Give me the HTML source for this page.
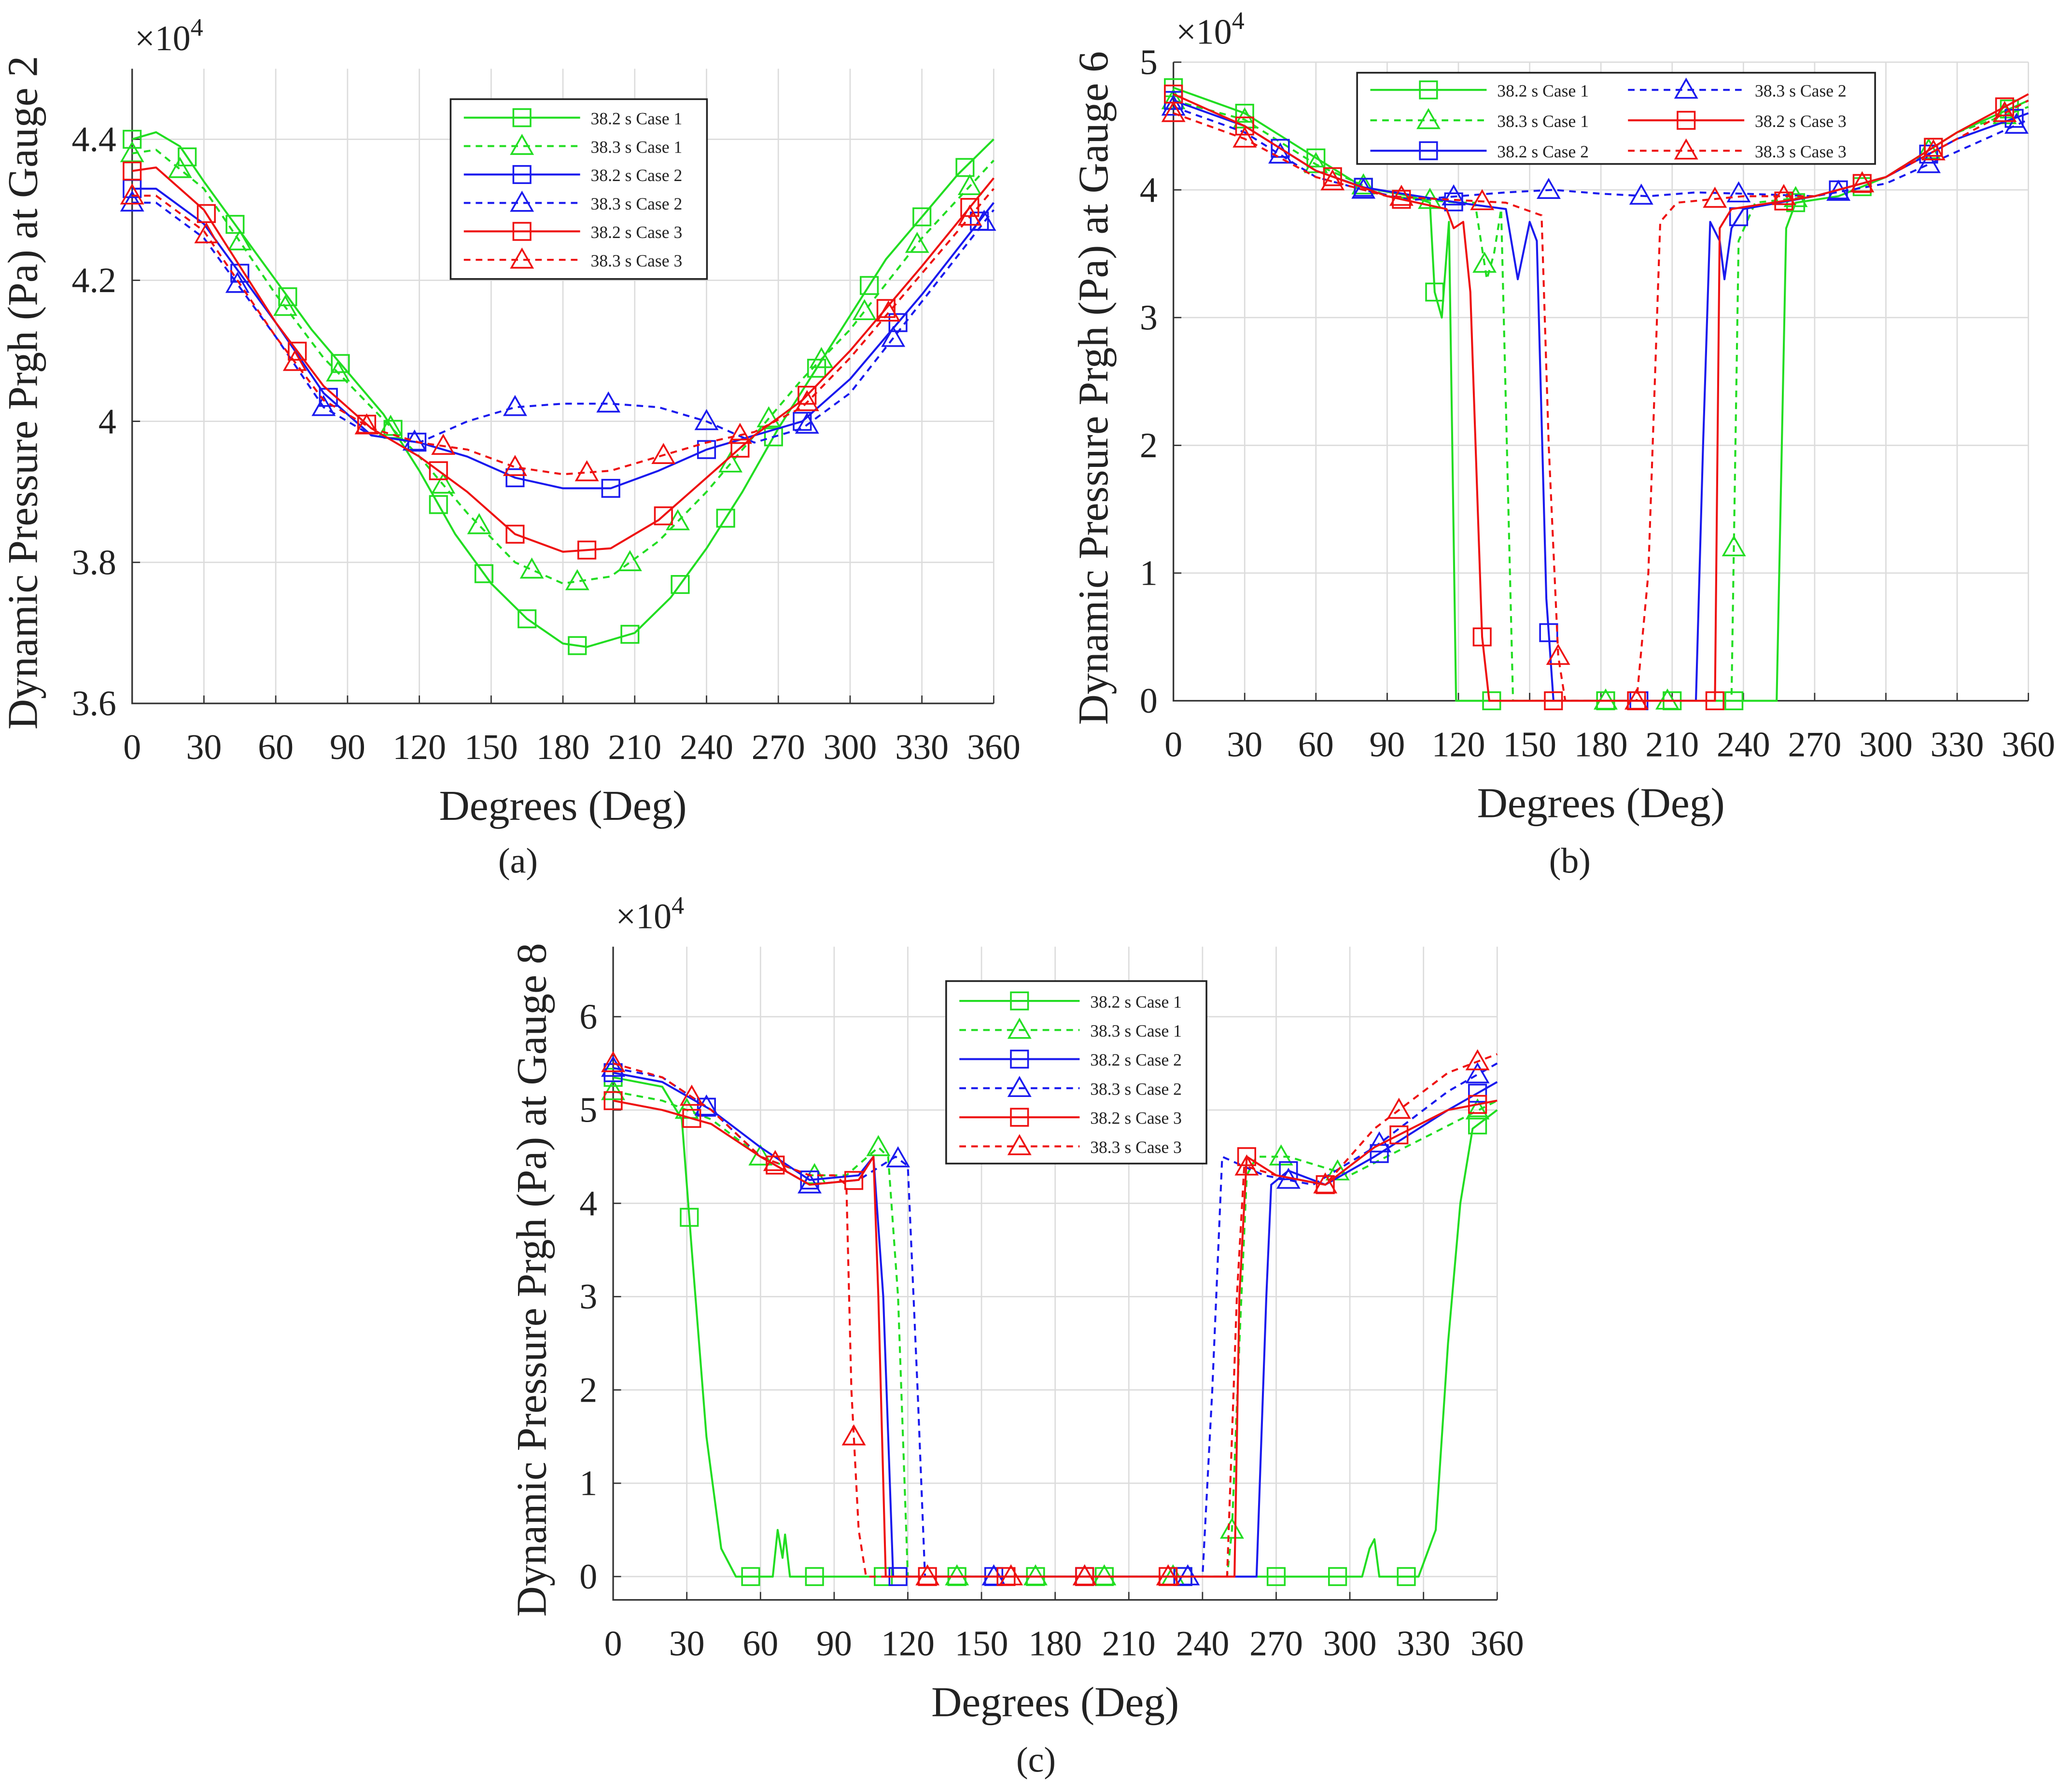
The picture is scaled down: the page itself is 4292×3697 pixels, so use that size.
<!DOCTYPE html>
<html><head><meta charset="utf-8"><style>
html,body{margin:0;padding:0;background:#fff;}
svg{display:block;}
text{font-family:"Liberation Serif",serif;fill:#222;}
</style></head><body>
<svg id="fig" width="4292" height="3697" viewBox="0 0 1568 1350" preserveAspectRatio="none" xmlns="http://www.w3.org/2000/svg">
<rect width="1568" height="1350" fill="#fff"/>
</svg>
<script>
// ---------- DATA ----------
// Panel (a) — Gauge 2 (x10^4)
const aDeg1 = [0,10,20,30,45,60,75,90,105,120,135,150,165,180,190,210,225,240,255,270,285,300,315,330,345,360];
const aC1s = [4.40,4.41,4.39,4.34,4.27,4.20,4.13,4.07,4.01,3.93,3.84,3.77,3.72,3.685,3.68,3.70,3.75,3.82,3.90,3.99,4.07,4.15,4.23,4.29,4.35,4.40];
const aDeg = [0,10,30,60,80,100,120,140,160,180,200,220,240,260,280,300,330,360];
const aC1d = [4.38,4.385,4.33,4.18,4.09,4.02,3.95,3.87,3.80,3.77,3.78,3.83,3.90,3.98,4.06,4.13,4.26,4.37];
const aC2s = [4.33,4.33,4.28,4.14,4.04,3.98,3.97,3.95,3.92,3.905,3.905,3.93,3.96,3.98,4.00,4.06,4.18,4.31];
const aC2d = [4.31,4.31,4.26,4.12,4.02,3.98,3.97,4.00,4.02,4.025,4.025,4.02,4.00,3.97,3.99,4.04,4.17,4.30];
const aC3s = [4.355,4.36,4.30,4.14,4.05,3.99,3.95,3.90,3.84,3.815,3.82,3.86,3.92,3.98,4.03,4.10,4.22,4.345];
const aC3d = [4.32,4.32,4.27,4.12,4.03,3.99,3.97,3.96,3.935,3.925,3.93,3.95,3.97,3.985,4.02,4.09,4.21,4.33];
const aM1s = [0,23,43,65,87,109,128,147,165,186,208,229,248,268,286,308,330,348];
const aM1d = [0,20,45,64,86,108,130,145,167,186,208,228,250,266,288,306,328,350];
const aM2s = [0,45,82,119,160,200,240,280,320,354];
const aM2d = [0,44,80,118,160,199,240,282,318,356];
const aM3s = [0,31,69,98,128,160,190,222,254,282,315,350];
const aM3d = [0,31,68,98,130,160,190,222,254,282,316,350];
// Panel (b) — Gauge 6 (x10^4)
const bDeg1 = [0,30,60,80,100,108,110,113,116,119,254,258,262,280,300,330,360];
const bC1s  = [4.8,4.6,4.25,4.02,3.95,3.9,3.2,3.0,3.75,0,0,3.7,3.9,3.95,4.1,4.45,4.7];
const bDeg2 = [0,30,60,90,120,127,132,135,138,143,235,238,245,270,300,330,360];
const bC1d  = [4.7,4.55,4.2,3.95,3.9,3.9,3.3,3.5,3.85,0,0,3.6,3.9,3.95,4.1,4.45,4.65];
const bDeg3 = [0,30,60,80,120,140,145,150,153,157,160,220,223,226,230,232,235,240,270,300,330,360];
const bC2s  = [4.7,4.5,4.15,4.02,3.9,3.85,3.3,3.75,3.6,0.8,0,0,2.0,3.75,3.6,3.3,3.7,3.85,3.95,4.1,4.4,4.6];
const bDeg4 = [0,30,60,80,100,120,140,160,180,200,220,240,270,300,330,360];
const bC2d  = [4.65,4.45,4.1,4.0,3.92,3.95,3.98,4.0,3.97,3.95,3.98,3.97,3.95,4.05,4.3,4.55];
const bDeg5 = [0,30,60,90,115,118,122,125,130,133,228,230,235,270,300,330,360];
const bC3s  = [4.75,4.5,4.15,3.95,3.85,3.7,3.75,3.2,0.5,0,0,3.7,3.85,3.95,4.1,4.45,4.75];
const bDeg6 = [0,30,60,90,140,155,158,162,165,195,200,205,212,240,270,300,330,360];
const bC3d  = [4.6,4.4,4.1,3.95,3.9,3.8,2.0,0.35,0,0,1.0,3.75,3.9,3.95,3.95,4.1,4.4,4.7];
const bM1s = [0,30,60,80,110,134,182,210,236,262,290,320,352];
const bM1d = [0,30,60,80,108,131,182,208,236,262,290,318,350];
const bM2s = [0,45,80,118,158,196,238,280,318,354];
const bM2d = [0,45,80,118,158,197,238,280,318,355];
const bM3s = [0,30,67,96,130,160,195,228,257,290,320,350];
const bM3d = [0,30,67,96,130,162,195,228,257,290,320,350];
// Panel (c) — Gauge 8 (x10^4)
const cDeg1 = [0,20,28,32,38,40,44,50,65,67,69,70,72,305,308,310,312,328,335,340,345,350,360];
const cC1s  = [5.35,5.25,4.9,3.5,1.5,1.1,0.3,0,0,0.5,0.2,0.45,0,0,0.3,0.4,0,0,0.5,2.5,4.0,4.8,5.0];
const cDeg2 = [0,20,40,60,80,95,108,112,116,120,250,252,255,258,262,275,300,330,360];
const cC1d  = [5.2,5.1,4.9,4.5,4.3,4.3,4.6,4.5,3.0,0,0,0.5,2.5,4.3,4.5,4.5,4.3,4.7,5.1];
const cDeg3 = [0,20,40,60,80,100,106,110,114,262,266,268,275,290,310,340,360];
const cC2s  = [5.4,5.3,5.0,4.6,4.25,4.3,4.5,3.0,0,0,3.0,4.2,4.35,4.2,4.5,5.0,5.3];
const cDeg4 = [0,20,40,60,80,100,115,120,124,127,240,244,248,265,285,310,340,360];
const cC2d  = [5.45,5.35,5.0,4.5,4.2,4.25,4.5,4.4,2.0,0,0,2.0,4.5,4.3,4.2,4.6,5.2,5.5];
const cDeg5 = [0,20,40,60,80,100,106,108,111,253,255,258,270,290,310,340,360];
const cC3s  = [5.1,5.0,4.85,4.5,4.2,4.25,4.5,3.0,0,0,3.0,4.5,4.3,4.2,4.6,5.0,5.1];
const cDeg6 = [0,20,40,60,80,90,95,97,100,103,250,254,257,270,290,310,340,360];
const cC3d  = [5.5,5.35,5.0,4.5,4.3,4.3,4.2,2.0,0.5,0,0,3.0,4.4,4.3,4.2,4.8,5.4,5.6];
const cM1s = [0,31,56,82,110,140,172,200,232,270,295,323,352];
const cM1d = [0,30,60,82,108,140,172,200,228,252,272,295,352];
const cM2s = [0,38,80,116,155,192,232,275,312,352];
const cM2d = [0,38,80,116,155,192,234,275,312,352];
const cM3s = [0,32,66,98,128,160,192,226,258,290,320,352];
const cM3d = [0,32,66,98,128,162,192,226,258,290,320,352];

// ---------- DRAWING ----------
const NS='http://www.w3.org/2000/svg';
const svg=document.getElementById('fig');
function mk(tag,attrs,parent){const e=document.createElementNS(NS,tag);for(const k in attrs)e.setAttribute(k,attrs[k]);(parent||svg).appendChild(e);return e;}
function interp(xs,ys,x){for(let i=0;i<xs.length-1;i++){if(x>=xs[i]&&x<=xs[i+1]){const t=(x-xs[i])/(xs[i+1]-xs[i]||1);return ys[i]+t*(ys[i+1]-ys[i]);}}return ys[ys.length-1];}
const GREEN='#22dd22',BLUE='#1a1aee',RED='#ee1111';

function marker(g,type,x,y,col){
  let e;
  if(type==='s'){e=mk('rect',{x:x-6.5,y:y-6.5,width:13,height:13,fill:'none',stroke:col,'stroke-width':1.3},g);}
  else{e=mk('polygon',{points:`${x},${y-8} ${x-8},${y+6} ${x+8},${y+6}`,fill:'none',stroke:col,'stroke-width':1.3},g);}
  
  
}

function panel(P){
  const g=mk('g',{});
  
  
  const X=d=>P.x0+(P.x1-P.x0)*d/360;
  const Y=v=>P.yb-(v-P.ymin)/(P.ymax-P.ymin)*(P.yb-P.yt);
  for(let d=0;d<=360;d+=30){const l=mk('line',{x1:X(d),x2:X(d),y1:P.yt,y2:P.yb,stroke:'#dcdcdc','stroke-width':1},g);
    }
  P.yticks.forEach(v=>{const l=mk('line',{x1:P.x0,x2:P.x1,y1:Y(v),y2:Y(v),stroke:'#dcdcdc','stroke-width':1},g);
    });
  const ax=mk('path',{d:`M${P.x0},${P.yt} L${P.x0},${P.yb} L${P.x1},${P.yb}`,fill:'none',stroke:'#333','stroke-width':1.2},g);
  
  for(let d=0;d<=360;d+=30){
    mk('line',{x1:X(d),x2:X(d),y1:P.yb,y2:P.yb-6,stroke:'#333','stroke-width':1},g);
    const t=mk('text',{x:X(d),y:P.yb+42,'text-anchor':'middle','font-size':27},g);t.textContent=d;
    }
  P.yticks.forEach(v=>{
    mk('line',{x1:P.x0,x2:P.x0+6,y1:Y(v),y2:Y(v),stroke:'#333','stroke-width':1},g);
    const t=mk('text',{x:P.x0-12,y:Y(v)+9,'text-anchor':'end','font-size':27},g);t.textContent=String(v);
    });
  const ex=mk('text',{x:P.x0+2,y:P.yt-14,'font-size':27},g);ex.innerHTML='×10<tspan dy="-11" font-size="19">4</tspan>';
  
  const yl=mk('text',{x:0,y:0,'text-anchor':'middle','font-size':32,transform:`translate(${P.ylx},${(P.yt+P.yb)/2+5}) rotate(-90)`},g);
  yl.textContent=P.ylabel;
  const xl=mk('text',{x:(P.x0+P.x1)/2,y:P.yb+88,'text-anchor':'middle','font-size':32},g);
  xl.textContent='Degrees (Deg)';
  const cap=mk('text',{x:P.capx,y:P.capy,'text-anchor':'middle','font-size':27},g);
  cap.textContent=P.cap;
  P.series.forEach(s=>{
    const sg=mk('g',{},g);
    
    
    const pts=s.x.map((d,i)=>`${X(d).toFixed(1)},${Y(s.y[i]).toFixed(1)}`).join(' ');
    const pl=mk('polyline',{points:pts,fill:'none',stroke:s.col,'stroke-width':1.5,'stroke-dasharray':s.dash?'5,4':'none','stroke-linejoin':'round'},sg);
    
    s.m.forEach(d=>marker(sg,s.mk,X(d),Y(interp(s.x,s.y,d)),s.col));
  });
  const L=P.leg;
  const lg=mk('g',{},g);
  
  mk('rect',{x:L.x,y:L.y,width:L.w,height:L.h,fill:'#fff',stroke:'#222','stroke-width':1.3},lg);
  P.series.forEach((s,i)=>{
    const col=L.cols?Math.floor(i/L.rows):0,row=L.cols?i%L.rows:i;
    const lx=L.x+10+col*(L.colw||0), ly=L.y+L.r0+row*L.dy;
    const eg=mk('g',{},lg);
    
    mk('line',{x1:lx,x2:lx+L.ll,y1:ly,y2:ly,stroke:s.col,'stroke-width':1.5,'stroke-dasharray':s.dash?'5,4':'none'},eg);
    marker(eg,s.mk,lx+L.ll/2,ly,s.col);
    const t=mk('text',{x:lx+L.ll+8,y:ly+5,'font-size':13},eg);t.textContent=s.label;
  });
}

function S(id,x,y,m,col,dash,mkType,label){return {id,x,y,m,col,dash,mk:mkType,label};}

panel({name:'panel-a',x0:100,x1:752,yt:52,yb:532,ymin:3.6,ymax:4.5,yticks:[3.6,3.8,4,4.2,4.4],
  ylx:28,ylabel:'Dynamic Pressure Prgh (Pa) at Gauge 2',cap:'(a)',capx:392,capy:660,
  leg:{x:341,y:75,w:194,h:136,r0:14,dy:21.5,ll:88},
  series:[S('series-38-2-case1',aDeg1,aC1s,aM1s,GREEN,false,'s','38.2 s Case 1'),
          S('series-38-3-case1',aDeg,aC1d,aM1d,GREEN,true,'t','38.3 s Case 1'),
          S('series-38-2-case2',aDeg,aC2s,aM2s,BLUE,false,'s','38.2 s Case 2'),
          S('series-38-3-case2',aDeg,aC2d,aM2d,BLUE,true,'t','38.3 s Case 2'),
          S('series-38-2-case3',aDeg,aC3s,aM3s,RED,false,'s','38.2 s Case 3'),
          S('series-38-3-case3',aDeg,aC3d,aM3d,RED,true,'t','38.3 s Case 3')]});

panel({name:'panel-b',x0:888,x1:1535,yt:47,yb:530,ymin:0,ymax:5,yticks:[0,1,2,3,4,5],
  ylx:838,ylabel:'Dynamic Pressure Prgh (Pa)  at Gauge 6',cap:'(b)',capx:1188,capy:660,
  leg:{x:1027,y:55,w:392,h:69,r0:13,dy:23,ll:88,cols:2,rows:3,colw:195},
  series:[S('series-38-2-case1',bDeg1,bC1s,bM1s,GREEN,false,'s','38.2 s Case 1'),
          S('series-38-3-case1',bDeg2,bC1d,bM1d,GREEN,true,'t','38.3 s Case 1'),
          S('series-38-2-case2',bDeg3,bC2s,bM2s,BLUE,false,'s','38.2 s Case 2'),
          S('series-38-3-case2',bDeg4,bC2d,bM2d,BLUE,true,'t','38.3 s Case 2'),
          S('series-38-2-case3',bDeg5,bC3s,bM3s,RED,false,'s','38.2 s Case 3'),
          S('series-38-3-case3',bDeg6,bC3d,bM3d,RED,true,'t','38.3 s Case 3')]});

panel({name:'panel-c',x0:464,x1:1133,yt:716,yb:1210,ymin:-0.25,ymax:6.75,yticks:[0,1,2,3,4,5,6],
  ylx:413,ylabel:'Dynamic Pressure Prgh (Pa) at Gauge 8',cap:'(c)',capx:784,capy:1340,
  leg:{x:716,y:742,w:197,h:138,r0:15,dy:22,ll:91},
  series:[S('series-38-2-case1',cDeg1,cC1s,cM1s,GREEN,false,'s','38.2 s Case 1'),
          S('series-38-3-case1',cDeg2,cC1d,cM1d,GREEN,true,'t','38.3 s Case 1'),
          S('series-38-2-case2',cDeg3,cC2s,cM2s,BLUE,false,'s','38.2 s Case 2'),
          S('series-38-3-case2',cDeg4,cC2d,cM2d,BLUE,true,'t','38.3 s Case 2'),
          S('series-38-2-case3',cDeg5,cC3s,cM3s,RED,false,'s','38.2 s Case 3'),
          S('series-38-3-case3',cDeg6,cC3d,cM3d,RED,true,'t','38.3 s Case 3')]});
</script>
</body></html>
